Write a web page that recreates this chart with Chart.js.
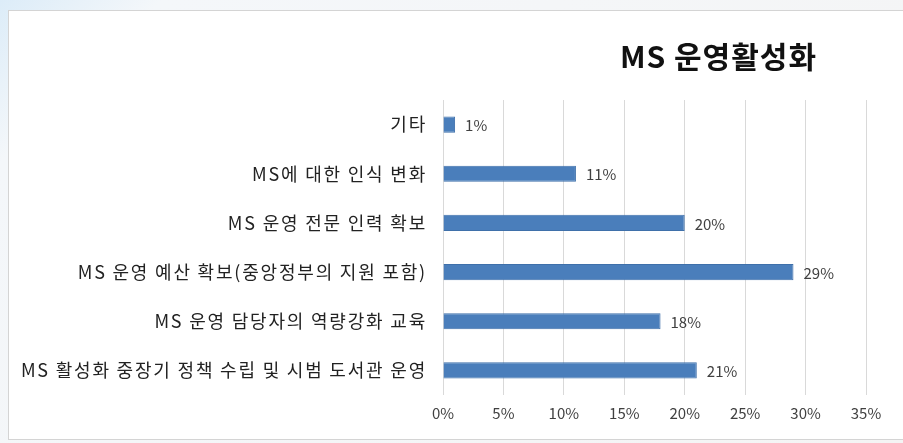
<!DOCTYPE html>
<html>
<head>
<meta charset="utf-8">
<script src="https://cdn.jsdelivr.net/npm/chart.js@4/dist/chart.umd.min.js"></script>
<style>
  html, body { margin: 0; padding: 0; }
  body { width: 903px; height: 443px; background: linear-gradient(135deg, #dcecf8 0%, #f4f7fa 12%, #f4f4f4 100%); position: relative; overflow: hidden; }
  #box { position: absolute; left: 8px; top: 10px; width: 900px; height: 430px; background: #fff; border: 1px solid #d4d4d4; box-sizing: border-box; }
  #box canvas { position: absolute; left: 0; top: 0; }
</style>
</head>
<body>
<div id="box"><canvas id="chart" width="900" height="430"></canvas></div>
<script>
// chart data
const titleText = "MS 운영활성화";
const categories = [
    "기타",
    "MS에 대한 인식 변화",
    "MS 운영 전문 인력 확보",
    "MS 운영 예산 확보(중앙정부의 지원 포함)",
    "MS 운영 담당자의 역량강화 교육",
    "MS 활성화 중장기 정책 수립 및 시범 도서관 운영"
];
const values = [1, 11, 20, 29, 18, 21];
const xTicks = [0, 5, 10, 15, 20, 25, 30, 35];

const labelFont = "'Noto Sans CJK KR', 'Noto Sans', sans-serif";

// draws the % next to each bar and the title,
// then widens the letter spacing for the category labels (drawn after, z = 1)
const barLabels = {
    id: "barLabels",
    afterDatasetsDraw(chart) {
        const ctx = chart.ctx;
        const meta = chart.getDatasetMeta(0);
        ctx.save();
        ctx.font = "15px " + labelFont;
        ctx.fillStyle = "#404040";
        ctx.textAlign = "left";
        ctx.textBaseline = "middle";
        meta.data.forEach((bar, i) => {
            ctx.fillText(values[i] + "%", bar.x + 10, bar.y + 1);
        });
        ctx.font = "bold 30px " + labelFont;
        ctx.fillStyle = "#111";
        ctx.textAlign = "right";
        ctx.letterSpacing = "1px";
        ctx.fillText(titleText, 808, 46);
        ctx.restore();
        ctx.letterSpacing = "1.8px";
    },
    afterDraw(chart) {
        chart.ctx.letterSpacing = "0px";
    }
};

const ctx = document.getElementById("chart").getContext("2d");
const chart = new Chart(ctx, {
    type: "bar",
    data: {
        labels: categories,
        datasets: [{
            data: values,
            backgroundColor: "#4a7ebb",
            borderColor: "#3f70aa",
            borderWidth: 1,
            barPercentage: 0.66,
            categoryPercentage: 0.5
        }]
    },
    plugins: [barLabels],
    options: {
        indexAxis: "y",
        responsive: false,
        animation: false,
        layout: {
            padding: { top: 89, right: 43, bottom: 0, left: 0 }
        },
        plugins: {
            legend: { display: false },
            title: { display: false },
            tooltip: { enabled: false }
        },
        scales: {
            x: {
                min: 0,
                max: 35,
                afterBuildTicks(scale) {
                    scale.ticks = xTicks.map(v => ({ value: v }));
                },
                afterFit(scale) { scale.height = 46; },
                ticks: {
                    callback: v => v + "%",
                    font: { family: labelFont, size: 15 },
                    color: "#404040",
                    padding: 9
                },
                grid: { color: "#d9d9d9", drawTicks: false },
                border: { display: false }
            },
            y: {
                afterFit(scale) { scale.width = 434; },
                ticks: {
                    z: 1,
                    font: { family: labelFont, size: 18 },
                    color: "#222",
                    padding: 16
                },
                grid: { display: false, drawTicks: false },
                border: { display: false }
            }
        }
    }
});
</script>
</body>
</html>
